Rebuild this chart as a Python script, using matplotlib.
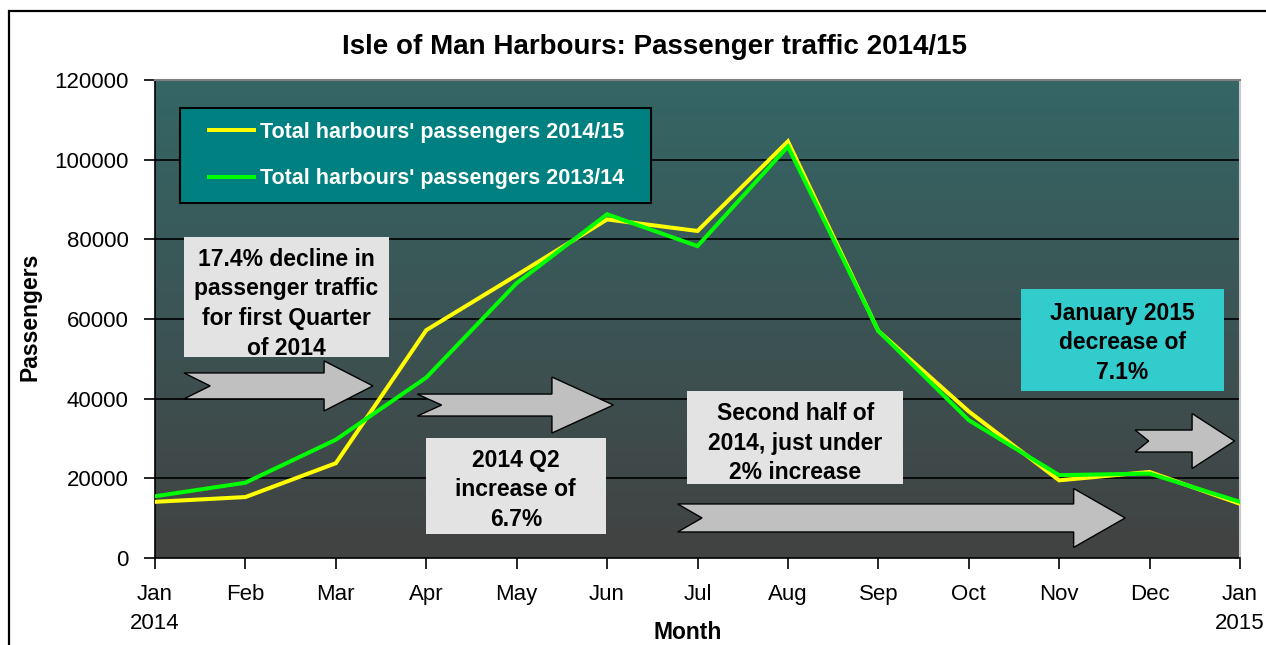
import numpy as np
import matplotlib
matplotlib.use('Agg')
import matplotlib.pyplot as plt
from matplotlib.patches import Rectangle, Polygon
from matplotlib.colors import LinearSegmentedColormap

plt.rcParams['font.family'] = ['Liberation Sans', 'DejaVu Sans']

# month index 0..12 (Jan 2014 .. Jan 2015)
months = ['Jan\n2014', 'Feb', 'Mar', 'Apr', 'May', 'Jun', 'Jul', 'Aug',
          'Sep', 'Oct', 'Nov', 'Dec', 'Jan\n2015']
pax_1415 = [14100, 15300, 23800, 57200, 71000, 85000, 82100, 104600,
            57000, 36800, 19500, 21600, 13600]
pax_1314 = [15500, 18900, 29700, 45300, 69000, 86300, 78300, 103300,
            57000, 34600, 20800, 21200, 14100]
label_1415 = "Total harbours' passengers 2014/15"
label_1314 = "Total harbours' passengers 2013/14"

fig = plt.figure(figsize=(12.66, 6.45), dpi=100)
ax = fig.add_axes([155 / 1266, 87 / 645, 1085 / 1266, 478 / 645])

x = np.arange(len(months))
ax.set_xlim(0, 12)
ax.set_ylim(0, 120000)

# plot area background: teal at the top fading to dark grey
cmap = LinearSegmentedColormap.from_list('bg', ['#424242', '#356666'])
ax.imshow(np.linspace(0, 1, 256).reshape(-1, 1), cmap=cmap, origin='lower',
          extent=[0, 12, 0, 120000], aspect='auto', zorder=0)

for yv in range(20000, 120000, 20000):
    ax.axhline(yv, color='black', lw=1.2, zorder=1)

ax.plot(x, pax_1415, color='#FFFF00', lw=2.9, label=label_1415, zorder=3,
        solid_joinstyle='miter')
ax.plot(x, pax_1314, color='#00FF00', lw=2.9, label=label_1314, zorder=3,
        solid_joinstyle='miter')


def arrow(x0, notch, xh, xt, yc, bh, hh):
    pts = [(x0, yc + bh), (xh, yc + bh), (xh, yc + hh), (xt, yc),
           (xh, yc - hh), (xh, yc - bh), (x0, yc - bh), (x0 + notch, yc)]
    ax.add_patch(Polygon(pts, closed=True, fc='#C0C0C0', ec='black',
                         lw=1.0, zorder=4))


def box(x0, x1, y0, y1, xt, yt, text, fc):
    ax.add_patch(Rectangle((x0, y0), x1 - x0, y1 - y0, fc=fc, ec='none',
                           zorder=4))
    ax.text(xt, yt, text, ha='center', va='center', fontsize=16.5,
            fontweight='bold', color='black', linespacing=1.38, zorder=5)


arrow(0.32, 0.29, 1.87, 2.41, 43200, 3260, 6280)
arrow(2.90, 0.27, 4.39, 5.07, 38400, 2760, 7030)
arrow(5.78, 0.27, 10.16, 10.73, 10050, 3520, 7400)
arrow(10.84, 0.15, 11.47, 11.94, 29370, 2760, 6900)

box(0.32, 2.59, 50460, 80590, 1.45, 63800,
    '17.4% decline in\npassenger traffic\nfor first Quarter\nof 2014', '#E3E3E3')
box(3.00, 4.99, 6030, 30130, 3.99, 17100,
    '2014 Q2\nincrease of\n6.7%', '#E3E3E3')
box(5.88, 8.27, 18580, 41930, 7.08, 28870,
    'Second half of\n2014, just under\n2% increase', '#E3E3E3')
box(9.58, 11.82, 41930, 67530, 10.70, 53980,
    'January 2015\ndecrease of\n7.1%', '#33CCCC')

# legend frame + legend
ax.add_patch(Rectangle((25 / 1085, 355 / 478), 471 / 1085, 95 / 478,
                       transform=ax.transAxes, fc='#008080', ec='black',
                       lw=1.5, zorder=5))
leg = ax.legend(loc='center left', bbox_to_anchor=(54 / 1085, 402.5 / 478),
                frameon=False, borderpad=0, borderaxespad=0,
                handlelength=2.1, handletextpad=0.25, labelspacing=1.2,
                prop={'size': 15.5, 'weight': 'bold'}, labelcolor='white')
leg.set_zorder(6)

ax.set_xticks(x)
ax.set_xticklabels(months)
for lbl in ax.get_xticklabels():
    lbl.set_linespacing(1.45)
ax.set_yticks(range(0, 120001, 20000))
ax.tick_params(axis='both', direction='out', length=8, width=1.2,
               labelsize=16, colors='black')
ax.tick_params(axis='x', pad=11)
ax.tick_params(axis='y', pad=11)

for s in ['left', 'bottom']:
    ax.spines[s].set_color('black')
    ax.spines[s].set_linewidth(1.2)
ax.spines['top'].set_color('#808080')
ax.spines['top'].set_linewidth(1.5)
ax.spines['right'].set_color('#C8C8C8')
ax.spines['right'].set_linewidth(1.5)

ax.set_ylabel('Passengers', fontsize=16.5, fontweight='bold')
ax.yaxis.set_label_coords(-0.105, 0.504)
ax.set_xlabel('Month', fontsize=16.5, fontweight='bold')
ax.xaxis.set_label_coords(0.491, -0.132)

fig.text(655 / 1266, 1 - 47 / 645, 'Isle of Man Harbours: Passenger traffic 2014/15',
         ha='center', va='center', fontsize=20, fontweight='bold')

# outer chart border
fig.patches.append(Rectangle((9 / 1266, -0.1), 1.2, 1.1 - 11 / 645,
                             transform=fig.transFigure, fill=False,
                             ec='black', lw=1.6))

fig.savefig('out.png', dpi=100)
